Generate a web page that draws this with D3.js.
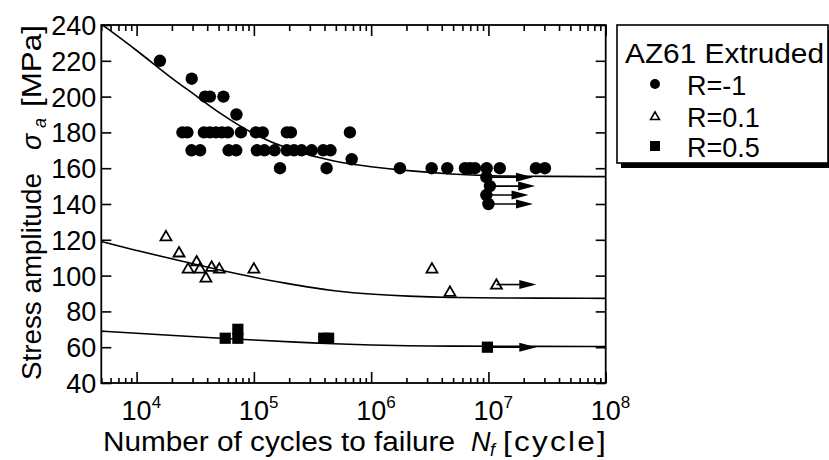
<!DOCTYPE html>
<html><head><meta charset="utf-8">
<script src="https://cdn.jsdelivr.net/npm/d3@7"></script>
<style>body{margin:0;background:#fff}svg{display:block}text{font-family:"Liberation Sans",Arial,sans-serif;fill:#000}</style>
</head><body>
<svg id="c" width="829" height="460"></svg>
<script>
// ---- data ----
const xMajor = [1e4, 1e5, 1e6, 1e7, 1e8];
const xExp = ["4", "5", "6", "7", "8"];
const yTicks = [40, 60, 80, 100, 120, 140, 160, 180, 200, 220, 240];
const seriesNames = ["R=-1", "R=0.1", "R=0.5"];
const legendTitle = "AZ61 Extruded";

// R = -1 (failures)
const rm1 = [
  [1.58e4,220],[2.95e4,210],[3.83e4,200],[4.22e4,200],[5.5e4,200],[7.1e4,190],
  [2.46e4,180],[2.71e4,180],[3.75e4,180],[4.22e4,180],[4.75e4,180],[5.34e4,180],[6.01e4,180],
  [7.76e4,180],[1.04e5,180],[1.19e5,180],[1.91e5,180],[2.07e5,180],[6.59e5,180],
  [2.94e4,170],[3.48e4,170],[6.09e4,170],[7.07e4,170],[1.06e5,170],[1.23e5,170],[1.5e5,170],
  [1.91e5,170],[2.2e5,170],[2.55e5,170],[3.11e5,170],[3.9e5,170],[4.5e5,170],
  [6.82e5,165],
  [1.67e5,160],[4.17e5,160],[1.76e6,160],[3.28e6,160],[4.46e6,160],[6.31e6,160],[6.96e6,160],
  [7.67e6,160],[9.66e6,160],[1.25e7,160],[2.54e7,160],[3.03e7,160]
];
// R = -1 run-outs: [N, stress, arrow end N]
const rm1Run = [[9.6e6,155,2.4e7],[1.03e7,150,2.5e7],[9.6e6,145,2.2e7],[1.0e7,140,2.4e7]];
// R = 0.1
const r01 = [[1.78e4,122],[2.3e4,113],[2.75e4,104],[3.25e4,108],[3.47e4,104],[3.9e4,99],
  [4.36e4,105],[5.07e4,104],[1e5,104],[3.3e6,104],[4.7e6,91]];
const r01Run = [[1.17e7,95,2.56e7]];
// R = 0.5
const r05 = [[5.7e4,65],[7.3e4,65],[7.3e4,70],[3.94e5,65],[4.34e5,65]];
const r05Run = [[9.8e6,60,2.56e7]];
// fitted curves
const fitRm1 = [[5000,240.5],[1e4,226],[2e4,210],[3e4,202],[5e4,191],[1e5,178.6],[2e5,170.2],
  [5e5,163.3],[1e6,160.8],[2e6,158.6],[5e6,156.6],[1e7,155.7],[3e7,155.4],[1e8,155.3]];
const fitR01 = [[5000,119],[1e4,114],[2e4,109.3],[5e4,103.3],[1e5,99],[2e5,95.4],[3e5,93.4],[5e5,91.4],
  [7e5,90.4],[1e6,89.6],[2e6,88.5],[5e6,87.7],[1e7,87.5],[1e8,87.3]];
const fitR05 = [[5000,69],[1e4,67.8],[2e4,66.6],[5e4,65],[1e5,64],[2e5,63],[5e5,61.8],
  [1e6,61.2],[2e6,60.8],[5e6,60.6],[1e7,60.5],[1e8,60.4]];

// ---- layout ----
const svg = d3.select("#c");
const L = 101.3, R = 605.7, T = 25, B = 383;
const W = R - L, H = B - T;
const x = d3.scaleLog().domain([5000, 1e8]).range([0, W]);
const y = d3.scaleLinear().domain([40, 240]).range([H, 0]);
const g = svg.append("g").attr("transform", `translate(${L},${T})`);

const xMinor = [];
for (let e = 3; e < 8; e++) for (let m = 2; m <= 9; m++) { const v = m * Math.pow(10, e); if (v >= 5000 && v < 1e8) xMinor.push(v); }

function styleAxis(sel){ sel.select(".domain").remove(); sel.selectAll(".tick line").attr("stroke","#000").attr("stroke-width",1.6); }
g.append("g").attr("transform",`translate(0,${H})`).call(d3.axisBottom(x).tickValues(xMajor).tickSize(-11).tickFormat("")).call(styleAxis);
g.append("g").attr("transform",`translate(0,${H})`).call(d3.axisBottom(x).tickValues(xMinor).tickSize(-5).tickFormat("")).call(styleAxis);
g.append("g").call(d3.axisTop(x).tickValues(xMajor).tickSize(-11).tickFormat("")).call(styleAxis);
g.append("g").call(d3.axisTop(x).tickValues(xMinor).tickSize(-6).tickFormat("")).call(styleAxis);
const ya = g.append("g").call(d3.axisLeft(y).tickValues(yTicks).tickSize(-10).tickPadding(5)).call(styleAxis);
ya.selectAll("text").attr("font-size",27).attr("font-family","Liberation Sans, Arial, sans-serif").attr("fill","#000").attr("dy","0.35em");
g.append("g").attr("transform",`translate(${W},0)`).call(d3.axisRight(y).tickValues(yTicks).tickSize(-10).tickFormat("")).call(styleAxis);

// x tick labels 10^n
const xl = g.selectAll(".xl").data(xMajor).enter().append("text")
  .attr("x", d => x(d)).attr("y", H + 37).attr("font-size", 27).attr("text-anchor","start")
  .attr("dx", -15);
xl.append("tspan").text("10");
xl.append("tspan").text((d,i) => xExp[i]).attr("font-size",17).attr("dy",-12);

// clip
svg.append("defs").append("clipPath").attr("id","clip").append("rect").attr("width",W).attr("height",H);
const pg = g.append("g").attr("clip-path","url(#clip)");
const line = d3.line().x(d => x(d[0])).y(d => y(d[1])).curve(d3.curveBasis);
[fitRm1, fitR01, fitR05].forEach(f => pg.append("path").attr("d", line(f)).attr("fill","none").attr("stroke","#000").attr("stroke-width",1.6));

// arrows
function arrows(data){
  data.forEach(d => {
    const x0 = x(d[0]), x1 = x(d[2]), yy = y(d[1]);
    g.append("line").attr("x1",x0).attr("x2",x1-10).attr("y1",yy).attr("y2",yy).attr("stroke","#000").attr("stroke-width",1.6);
    g.append("path").attr("d",`M${x1},${yy}L${x1-17},${yy-4.5}L${x1-17},${yy+4.5}Z`).attr("fill","#000");
  });
}
arrows(rm1Run); arrows(r01Run); arrows(r05Run);

// markers
const tri = d3.symbol(d3.symbolTriangle, 52);
g.selectAll(".c1").data(rm1.concat(rm1Run)).enter().append("circle")
  .attr("cx", d => x(d[0])).attr("cy", d => y(d[1])).attr("r", 6.2).attr("fill","#000");
g.selectAll(".t1").data(r01.concat(r01Run)).enter().append("path").attr("d", tri)
  .attr("transform", d => `translate(${x(d[0])},${y(d[1])+1})`).attr("fill","none").attr("stroke","#000").attr("stroke-width",1.8);
g.selectAll(".s1").data(r05.concat(r05Run)).enter().append("rect")
  .attr("x", d => x(d[0]) - 5.6).attr("y", d => y(d[1]) - 5.6).attr("width", 11.2).attr("height", 11.2).attr("fill","#000");

// frame
g.append("rect").attr("width",W).attr("height",H).attr("fill","none").attr("stroke","#000").attr("stroke-width",1.8);

// axis titles
const xt = svg.append("g").attr("font-size", 27);
xt.append("text").attr("x", 103).attr("y", 451).attr("textLength", 352).attr("lengthAdjust","spacingAndGlyphs").text("Number of cycles to failure");
xt.append("text").attr("x", 471).attr("y", 451).attr("font-style","italic").text("N");
xt.append("text").attr("x", 490).attr("y", 456).attr("font-style","italic").attr("font-size",18).text("f");
xt.append("text").attr("x", 503).attr("y", 451).attr("font-size",28).attr("letter-spacing",2).attr("textLength", 105).attr("lengthAdjust","spacingAndGlyphs").text("[cycle]");

const yt = svg.append("g").attr("transform","translate(41,0) rotate(-90)").attr("font-size",27);
yt.append("text").attr("x",-380).attr("y",0).attr("textLength",207).attr("lengthAdjust","spacingAndGlyphs").text("Stress amplitude");
yt.append("text").attr("x",-150).attr("y",0).attr("font-style","italic").text("σ");
yt.append("text").attr("x",-128).attr("y",5).attr("font-style","italic").attr("font-size",18).text("a");
yt.append("text").attr("x",-107).attr("y",0).attr("textLength",82).attr("lengthAdjust","spacingAndGlyphs").text("[MPa]");

// legend
const lg = svg.append("g");
lg.append("rect").attr("x",621).attr("y",30).attr("width",211).attr("height",138).attr("fill","#000");
lg.append("rect").attr("x",617).attr("y",25).attr("width",211).attr("height",138).attr("fill","#fff").attr("stroke","#000").attr("stroke-width",1.6);
lg.append("text").attr("x",625).attr("y",63).attr("font-size",27).attr("textLength",199).attr("lengthAdjust","spacingAndGlyphs").text(legendTitle);
const ly = [84, 116, 146];
lg.append("circle").attr("cx",655).attr("cy",ly[0]).attr("r",5).attr("fill","#000");
lg.append("path").attr("d", d3.symbol(d3.symbolTriangle, 34)).attr("transform",`translate(655,${ly[1]+1})`).attr("fill","none").attr("stroke","#000").attr("stroke-width",1.6);
lg.append("rect").attr("x",650).attr("y",ly[2]-5).attr("width",10).attr("height",10).attr("fill","#000");
lg.selectAll(".lt").data(seriesNames).enter().append("text").attr("x",687).attr("y",(d,i)=>ly[i]+11).attr("font-size",27).text(d=>d);
</script>
</body></html>
